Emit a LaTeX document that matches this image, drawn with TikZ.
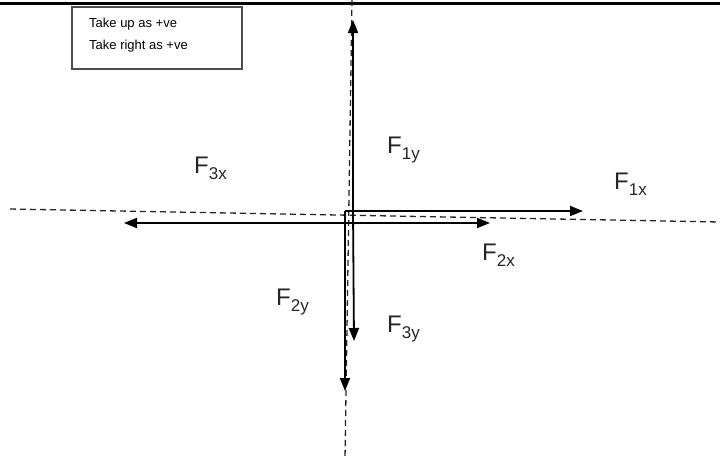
\documentclass[tikz,border=0pt]{standalone}
\usepackage{fontspec}
\setmainfont{Liberation Sans}
\usetikzlibrary{arrows.meta}
\begin{document}
\begin{tikzpicture}[x=1pt,y=-1pt,
  force/.style={line width=1.8pt,-{Triangle[length=13pt,width=10pt]}},
  axis/.style={line width=1.3pt,dash pattern=on 6pt off 4pt,black!85},
  lbl/.style={anchor=base west,inner sep=0pt,font=\fontsize{24}{24}\selectfont,text=black!85},
  sub/.style={},
  note/.style={draw=black!70,line width=1.2pt,minimum width=170pt,minimum height=62pt,inner sep=0pt},
  notetxt/.style={anchor=base west,inner sep=0pt,font=\fontsize{13}{13}\selectfont}]
\useasboundingbox[fill=white] (0,0) rectangle (720,459);
% top rule
\draw[line width=3pt] (0,3.5) -- (720,3.5);
% note box
\node[note] (box) at (157,38) {};
\node[notetxt] (t1) at (89,27.5) {Take up as +ve};
\node[notetxt] (t2) at (89,49.5) {Take right as +ve};
% axes
\coordinate (vt) at (352,0);
\coordinate (vb) at (345,459);
\coordinate (hl) at (10,209);
\coordinate (hr) at (720,222);
\draw[axis] (vt) -- (vb);
\draw[axis] (hl) -- (hr);
% origins
\coordinate (o1) at (353,211);
\coordinate (o2) at (345,211);
\coordinate (o3) at (345,223);
\coordinate (o4) at (353,211);
% tips
\coordinate (p1y) at (353,20);
\coordinate (p1x) at (583,211);
\coordinate (p2x) at (490,223);
\coordinate (p3x) at (124,223);
\coordinate (p2y) at (345,391);
\coordinate (p3y) at (354,341);
\draw[force] (o1) -- (p1y);
\draw[force] (o2) -- (p1x);
\draw[force] (o3) -- (p2x);
\draw[force] (o3) -- (p3x);
\draw[force] (o2) -- (p2y);
\draw[force] (o4) -- (p3y);
% labels
\newcommand{\fsub}[1]{\raisebox{-6pt}{\fontsize{17}{17}\selectfont #1}}
\node[lbl] (l1y) at (387,153) {F\fsub{1y}};
\node[lbl] (l3x) at (194,173) {F\fsub{3x}};
\node[lbl] (l1x) at (614,189) {F\fsub{1x}};
\node[lbl] (l2x) at (482,260) {F\fsub{2x}};
\node[lbl] (l2y) at (276,305) {F\fsub{2y}};
\node[lbl] (l3y) at (387,332) {F\fsub{3y}};
\end{tikzpicture}
\end{document}
